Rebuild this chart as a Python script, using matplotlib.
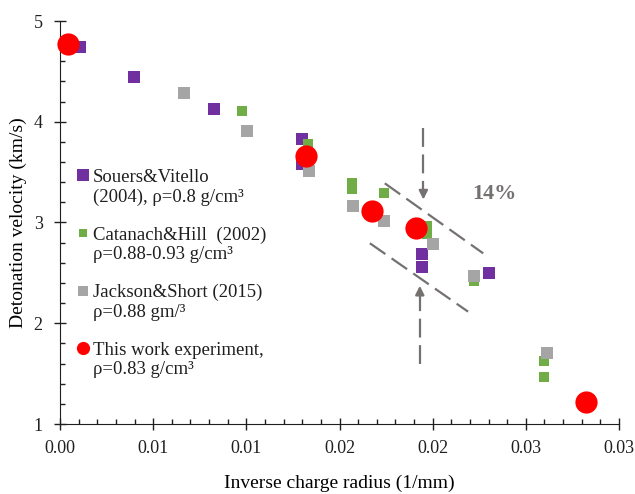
import matplotlib
matplotlib.use("Agg")
import matplotlib.pyplot as plt

# datos (radio inverso 1/mm, velocidad km/s)
souers_x = [0.00107, 0.00399, 0.00828, 0.0130, 0.0130, 0.01944, 0.01944, 0.02303]
souers_y = [4.74, 4.44, 4.13, 3.83, 3.58, 2.69, 2.56, 2.50]

catanach_x = [0.00978, 0.0133, 0.01566, 0.01566, 0.0174, 0.01967, 0.01967, 0.02222, 0.02595, 0.02600]
catanach_y = [4.11, 3.78, 3.39, 3.33, 3.29, 2.97, 2.89, 2.42, 1.63, 1.47]

jackson_x = [0.00667, 0.01001, 0.01337, 0.01573, 0.0174, 0.02003, 0.02222, 0.02614]
jackson_y = [4.29, 3.91, 3.51, 3.16, 3.01, 2.79, 2.47, 1.70]

this_x = [0.00045, 0.0132, 0.01677, 0.0191, 0.02821]
this_y = [4.77, 3.66, 3.11, 2.95, 1.22]

xticks = [0.0, 0.005, 0.010, 0.015, 0.020, 0.025, 0.030]
xtick_labels = ['0.00', '0.01', '0.01', '0.02', '0.02', '0.03', '0.03']
yticks = [1, 2, 3, 4, 5]

labels = ['Souers&Vitello\n(2004), ρ=0.8 g/cm³',
          'Catanach&Hill  (2002)\nρ=0.88-0.93 g/cm³',
          'Jackson&Short (2015)\nρ=0.88 gm/³',
          'This work experiment,\nρ=0.83 g/cm³']

txt = '#1f1f1f'
gris = '#767171'
plt.rcParams['font.family'] = ['Liberation Serif', 'DejaVu Serif']
plt.rcParams['text.color'] = txt

fig = plt.figure(figsize=(6.35, 4.94), dpi=100)
ax = fig.add_axes([60/635, 70/494, 559/635, 403/494])

ax.plot(souers_x, souers_y, 's', color='#7030A0', ms=8, mew=0, clip_on=False, zorder=3, label=labels[0])
ax.plot(catanach_x, catanach_y, 's', color='#70AD47', ms=6.5, mew=0, clip_on=False, zorder=3, label=labels[1])
ax.plot(jackson_x, jackson_y, 's', color='#A5A5A5', ms=8, mew=0, clip_on=False, zorder=3, label=labels[2])
ax.plot(this_x, this_y, 'o', color='#FF0000', ms=16, mew=0, clip_on=False, zorder=4, label=labels[3])

# anotacion 14%
dash = (0, (8.5, 3.4))
ax.plot([0.01743, 0.02271], [3.389, 2.694], color=gris, lw=1.6, ls=dash, zorder=2)
ax.plot([0.01663, 0.0219], [2.794, 2.115], color=gris, lw=1.6, ls=dash, zorder=2)
ax.plot([0.0195, 0.0195], [3.94, 3.31], color=gris, lw=1.6, ls=dash, zorder=2)
ax.annotate('', xy=(0.0195, 3.20), xytext=(0.0195, 3.32),
            arrowprops=dict(arrowstyle='-|>', color=gris, lw=1.6, mutation_scale=13))
ax.plot([0.01931, 0.01931], [1.60, 2.29], color=gris, lw=1.6, ls=dash, zorder=2)
ax.annotate('', xy=(0.01931, 2.40), xytext=(0.01931, 2.28),
            arrowprops=dict(arrowstyle='-|>', color=gris, lw=1.6, mutation_scale=13))
ax.text(0.02333, 3.28, '14%', color=gris, fontsize=16, fontweight='bold', ha='center', va='center')

ax.set_xlim(0, 0.03)
ax.set_ylim(1, 5)
ax.set_xticks(xticks)
ax.set_xticklabels(xtick_labels)
ax.set_yticks(yticks)
ax.set_xticks([i * 0.001 for i in range(31)], minor=True)
ax.set_yticks([1 + i * 0.2 for i in range(21)], minor=True)
ax.tick_params(which='major', direction='inout', length=9, width=1, colors=txt, labelsize=13)
ax.tick_params(which='minor', direction='in', length=3.5, width=1, colors=txt)
ax.tick_params(axis='x', which='major', pad=7)
ax.tick_params(axis='y', which='major', pad=8)
for s in ['top', 'right']:
    ax.spines[s].set_visible(False)
for s in ['left', 'bottom']:
    ax.spines[s].set_color(txt)

ax.set_xlabel('Inverse charge radius (1/mm)', fontsize=14, labelpad=13)
ax.set_ylabel('Detonation velocity (km/s)', fontsize=14, labelpad=5)

leg = ax.legend(loc='upper left', bbox_to_anchor=(0.0304, 0.633), frameon=False,
                fontsize=13.5, handlelength=0.6, handletextpad=0.25, labelspacing=1.1,
                borderpad=0, borderaxespad=0, numpoints=1)
for h, s in zip(leg.legend_handles, [8, 5.5, 7, 9.5]):
    h.set_markersize(s)
for col in leg._legend_handle_box.get_children():
    for item in col.get_children():
        item.align = 'top'

fig.savefig('out.png', dpi=100)
